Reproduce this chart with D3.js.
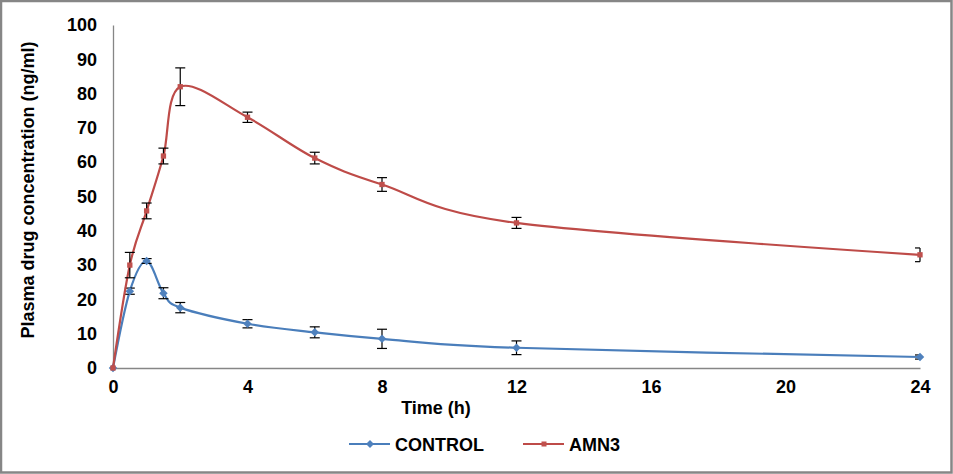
<!DOCTYPE html>
<html>
<head>
<meta charset="utf-8">
<script src="https://cdn.jsdelivr.net/npm/d3@7"></script>
<style>
    html, body { margin: 0; padding: 0; background: #fff; overflow: hidden; }
    svg { display: block; }
    text { font-family: "Liberation Sans", Arial, sans-serif; font-weight: bold; fill: #000; }
</style>
</head>
<body>
<div id="chart-container"></div>
<script>
const times = [0, 0.5, 1, 1.5, 2, 4, 6, 8, 12, 24];
const controlMean = [0, 22.4, 31.2, 21.8, 17.6, 12.9, 10.4, 8.5, 5.9, 3.2];
const controlSD = [0, 0.9, 0.7, 1.6, 1.5, 1.2, 1.6, 2.8, 2.0, 0.6];
const amn3Mean = [0, 30.0, 45.8, 61.8, 82.0, 73.1, 61.2, 53.5, 42.3, 33.0];
const amn3SD = [0, 3.7, 2.3, 2.3, 5.5, 1.5, 1.7, 2.0, 1.6, 2.0];
const xTicks = [0, 4, 8, 12, 16, 20, 24];
const yTicks = [0, 10, 20, 30, 40, 50, 60, 70, 80, 90, 100];
const seriesNames = ["CONTROL", "AMN3"];

const width = 953;
const height = 474;
const margin = { top: 25, right: 33, bottom: 106, left: 113 };
const innerWidth = width - margin.left - margin.right;
const innerHeight = height - margin.top - margin.bottom;

const series = [
    { name: seriesNames[0], mean: controlMean, sd: controlSD, line: "#4A7EBB", marker: "#4F81BD", shape: "diamond" },
    { name: seriesNames[1], mean: amn3Mean, sd: amn3SD, line: "#BE4B48", marker: "#C0504D", shape: "square" },
];

const svg = d3
    .select("#chart-container")
    .append("svg")
    .attr("width", width)
    .attr("height", height);

// outer frame
svg.append("rect")
    .attr("x", 1)
    .attr("y", 1)
    .attr("width", width - 2.5)
    .attr("height", height - 2.5)
    .attr("fill", "none")
    .attr("stroke", "#868686")
    .attr("stroke-width", 2.5);

const x = d3.scaleLinear().domain([0, 24]).range([0, innerWidth]);
const y = d3.scaleLinear().domain([0, 100]).range([innerHeight, 0]);

const g = svg.append("g").attr("transform", `translate(${margin.left},${margin.top})`);

// axes
const xAxis = g.append("g")
    .attr("transform", `translate(0,${innerHeight})`)
    .call(d3.axisBottom(x).tickValues(xTicks).tickSize(0).tickPadding(12));

const yAxis = g.append("g")
    .call(d3.axisLeft(y).tickValues(yTicks).tickSize(0).tickPadding(16));

[xAxis, yAxis].forEach((a) => {
    a.attr("font-family", "'Liberation Sans', Arial, sans-serif")
        .attr("font-size", 18)
        .attr("font-weight", "bold");
    a.select(".domain").attr("stroke", "#868686").attr("stroke-width", 1.3);
    a.selectAll("text").attr("fill", "#000");
});
xAxis.selectAll("text").attr("text-anchor", "middle");
yAxis.selectAll("text").attr("text-anchor", "end");

const line = d3.line()
    .x((d) => x(d.t))
    .y((d) => y(d.v))
    .curve(d3.curveCardinal.tension(0));

// caps stop at the right edge of the plot area, like the original
const capL = (d) => x(d.t) - 5;
const capR = (d) => Math.min(x(d.t) + 5, innerWidth);

series.forEach((s) => {
    const pts = times.map((t, i) => ({ t: t, v: s.mean[i], e: s.sd[i] }));

    g.append("path")
        .datum(pts)
        .attr("d", line)
        .attr("fill", "none")
        .attr("stroke", s.line)
        .attr("stroke-width", 2.2);

    const bars = g.append("g")
        .selectAll("g")
        .data(pts.filter((d) => d.e > 0))
        .join("g")
        .attr("stroke", "#000")
        .attr("stroke-width", 1.2);

    bars.append("line")
        .attr("x1", (d) => x(d.t))
        .attr("x2", (d) => x(d.t))
        .attr("y1", (d) => y(d.v + d.e))
        .attr("y2", (d) => y(d.v - d.e));
    bars.append("line")
        .attr("x1", capL)
        .attr("x2", capR)
        .attr("y1", (d) => y(d.v + d.e))
        .attr("y2", (d) => y(d.v + d.e));
    bars.append("line")
        .attr("x1", capL)
        .attr("x2", capR)
        .attr("y1", (d) => y(d.v - d.e))
        .attr("y2", (d) => y(d.v - d.e));

    const sym = s.shape === "diamond"
        ? d3.symbol().type(d3.symbolDiamond2).size(46)
        : d3.symbol().type(d3.symbolSquare2).size(36);

    g.append("g")
        .selectAll("path")
        .data(pts)
        .join("path")
        .attr("d", sym)
        .attr("transform", (d) => `translate(${x(d.t)},${y(d.v)})`)
        .attr("fill", s.marker);
});

// axis titles
svg.append("text")
    .attr("x", 436)
    .attr("y", 414)
    .attr("text-anchor", "middle")
    .style("font-size", "18px")
    .text("Time (h)");

svg.append("text")
    .attr("transform", "translate(34,190) rotate(-90)")
    .attr("text-anchor", "middle")
    .style("font-size", "18px")
    .text("Plasma drug concentration (ng/ml)");

// legend
const legendX = [349, 523];
const legend = svg.append("g")
    .selectAll("g")
    .data(series)
    .join("g")
    .attr("transform", (d, i) => `translate(${legendX[i]},444)`);

legend.append("line")
    .attr("x1", 0)
    .attr("x2", 41)
    .attr("stroke", (d) => d.line)
    .attr("stroke-width", 2.2);

legend.append("path")
    .attr("d", (d) => d.shape === "diamond"
        ? d3.symbol().type(d3.symbolDiamond2).size(40)()
        : d3.symbol().type(d3.symbolSquare2).size(32)())
    .attr("transform", "translate(21,0)")
    .attr("fill", (d) => d.marker);

legend.append("text")
    .attr("x", 46)
    .attr("y", 7)
    .style("font-size", "18px")
    .text((d) => d.name);
</script>
</body>
</html>
